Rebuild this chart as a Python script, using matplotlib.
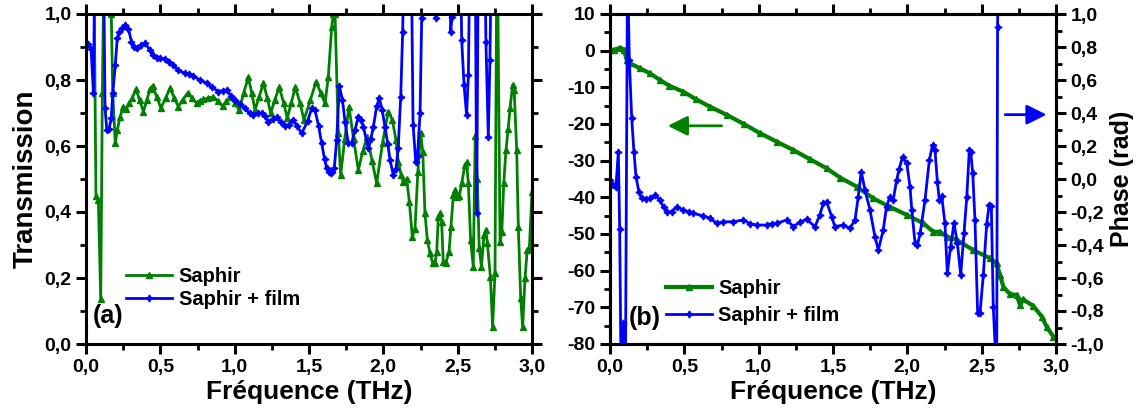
import matplotlib.pyplot as plt
from matplotlib.ticker import MultipleLocator, FuncFormatter

plt.rcParams['font.family'] = ['Liberation Sans', 'DejaVu Sans']
plt.rcParams['font.weight'] = 'bold'

# (a) transmission - Saphir
f_tr_sap = [0.05, 0.067, 0.083, 0.099, 0.11, 0.125, 0.15, 0.17, 0.18, 0.197, 0.21, 0.23, 0.25, 0.27,
            0.29, 0.31, 0.336, 0.36, 0.386, 0.41, 0.43, 0.448, 0.475, 0.504, 0.535, 0.565, 0.595,
            0.621, 0.65, 0.684, 0.715, 0.744, 0.765, 0.789, 0.82, 0.856, 0.89, 0.919, 0.945, 0.969,
            1.0, 1.031, 1.06, 1.092, 1.115, 1.137, 1.165, 1.193, 1.22, 1.242, 1.27, 1.30, 1.33,
            1.354, 1.38, 1.408, 1.44, 1.466, 1.51, 1.547, 1.58, 1.608, 1.63, 1.653, 1.664, 1.675,
            1.697, 1.713, 1.74, 1.769, 1.80, 1.832, 1.862, 1.892, 1.925, 1.955, 1.995, 2.033, 2.06,
            2.085, 2.10, 2.12, 2.134, 2.157, 2.175, 2.195, 2.213, 2.232, 2.251, 2.265, 2.28, 2.296,
            2.314, 2.332, 2.347, 2.359, 2.37, 2.382, 2.392, 2.403, 2.42, 2.442, 2.455, 2.471, 2.482,
            2.498, 2.512, 2.527, 2.549, 2.56, 2.572, 2.587, 2.605, 2.618, 2.632, 2.645, 2.66, 2.677,
            2.69, 2.70, 2.72, 2.735, 2.751, 2.765, 2.785, 2.797, 2.81, 2.825, 2.84, 2.852, 2.87,
            2.88, 2.897, 2.908, 2.924, 2.937, 2.953, 2.968, 2.982, 3.0]
tr_sap = [1.3, 0.45, 0.435, 0.135, 0.76, 1.3, 1.3, 1.0, 0.76, 0.608, 0.648, 0.689, 0.719, 0.712,
          0.73, 0.745, 0.772, 0.74, 0.704, 0.74, 0.772, 0.782, 0.75, 0.715, 0.745, 0.775, 0.745,
          0.719, 0.74, 0.76, 0.745, 0.729, 0.737, 0.741, 0.745, 0.749, 0.735, 0.721, 0.735, 0.749,
          0.73, 0.709, 0.76, 0.808, 0.76, 0.709, 0.75, 0.79, 0.745, 0.699, 0.74, 0.778, 0.73,
          0.684, 0.73, 0.778, 0.73, 0.679, 0.74, 0.795, 0.76, 0.729, 0.81, 0.962, 1.0, 1.0,
          0.638, 0.512, 0.62, 0.719, 0.62, 0.527, 0.585, 0.628, 0.555, 0.487, 0.61, 0.704, 0.68,
          0.618, 0.552, 0.512, 0.492, 0.50, 0.431, 0.325, 0.35, 0.52, 0.638, 0.583, 0.396, 0.315,
          0.275, 0.245, 0.245, 0.28, 0.386, 0.396, 0.371, 0.25, 0.245, 0.28, 0.356, 0.452, 0.467,
          0.446, 0.45, 0.487, 0.542, 0.55, 0.487, 0.315, 0.234, 0.63, 0.5, 0.29, 0.234, 0.33,
          0.345, 0.305, 0.204, 0.052, 0.214, 1.3, 0.31, 0.34, 0.487, 0.588, 0.653, 0.714, 0.785,
          0.77, 0.588, 0.356, 0.138, 0.052, 0.199, 0.285, 0.29, 0.46]

# (a) transmission - Saphir + film
f_tr_film = [0.0, 0.015, 0.034, 0.05, 0.062, 0.09, 0.115, 0.128, 0.14, 0.155, 0.17, 0.18, 0.197,
             0.21, 0.225, 0.24, 0.26, 0.285, 0.306, 0.325, 0.34, 0.37, 0.40, 0.43, 0.45, 0.475,
             0.50, 0.531, 0.56, 0.587, 0.62, 0.666, 0.695, 0.722, 0.765, 0.812, 0.85, 0.89, 0.92,
             0.946, 0.975, 1.002, 1.035, 1.069, 1.10, 1.125, 1.155, 1.182, 1.205, 1.226, 1.255,
             1.283, 1.31, 1.339, 1.365, 1.394, 1.42, 1.451, 1.49, 1.518, 1.54, 1.565, 1.585, 1.605,
             1.619, 1.633, 1.646, 1.658, 1.67, 1.686, 1.704, 1.725, 1.742, 1.764, 1.787, 1.81,
             1.832, 1.85, 1.866, 1.899, 1.915, 1.933, 1.955, 1.973, 1.992, 2.011, 2.03, 2.045,
             2.067, 2.085, 2.10, 2.117, 2.13, 2.145, 2.185, 2.20, 2.218, 2.23, 2.247, 2.258, 2.27,
             2.34, 2.354, 2.368, 2.44, 2.453, 2.462, 2.475, 2.515, 2.527, 2.543, 2.56, 2.572, 2.585,
             2.617, 2.628, 2.64, 2.68, 2.69, 2.706, 2.717, 2.73]
tr_film = [0.91, 0.91, 0.895, 0.76, 1.3, 1.3, 1.3, 0.714, 0.65, 0.652, 0.684, 0.76, 0.845,
           0.926, 0.945, 0.958, 0.967, 0.955, 0.916, 0.9, 0.896, 0.905, 0.911, 0.89, 0.876, 0.868,
           0.866, 0.865, 0.855, 0.845, 0.83, 0.82, 0.818, 0.812, 0.80, 0.79, 0.778, 0.765, 0.768,
           0.77, 0.752, 0.739, 0.728, 0.714, 0.70, 0.694, 0.70, 0.70, 0.69, 0.674, 0.682,
           0.689, 0.672, 0.661, 0.665, 0.679, 0.66, 0.638, 0.675, 0.714, 0.709, 0.66, 0.608, 0.56,
           0.532, 0.52, 0.517, 0.522, 0.532, 0.618, 0.782, 0.74, 0.674, 0.608, 0.608, 0.65,
           0.689, 0.68, 0.658, 0.593, 0.62, 0.658, 0.72, 0.745, 0.71, 0.658, 0.605, 0.558,
           0.512, 0.53, 0.593, 0.75, 0.946, 1.3, 1.3, 0.664, 0.552, 0.57, 0.70, 0.987, 1.3,
           1.3, 0.987, 1.3, 1.3, 0.946, 0.99, 1.3, 1.3, 0.921, 0.785, 0.694, 0.815, 1.3,
           1.3, 0.396, 1.3, 1.3, 0.916, 0.628, 0.86, 1.3]

# (b) phase - Saphir (left axis)
f_ph_sap = [0.0, 0.03, 0.067, 0.094, 0.112, 0.135, 0.2, 0.269, 0.336, 0.4, 0.493, 0.58, 0.673,
            0.785, 0.9, 1.009, 1.12, 1.233, 1.345, 1.458, 1.547, 1.66, 1.771, 1.883, 1.996, 2.108,
            2.175, 2.22, 2.265, 2.332, 2.444, 2.556, 2.60, 2.623, 2.646, 2.69, 2.736, 2.758, 2.776,
            2.847, 2.904, 2.937, 2.982]
ph_sap = [0.2, 0.2, 0.8, 0.3, -2.5, -3.45, -4.8, -6.2, -8.0, -9.6, -11.2, -13.3, -15.3,
          -17.5, -20.0, -22.5, -24.8, -27.1, -29.6, -32.1, -34.6, -37.1, -40.3, -42.6, -44.8, -47.1,
          -49.4, -49.4, -50.7, -51.6, -54.4, -56.6, -58.0, -61.2, -64.4, -66.4, -66.6, -69.4, -67.8,
          -69.6, -72.5, -75.3, -78.0]

# (b) phase - Saphir + film (right axis, rad)
f_ph_film = [0.0, 0.022, 0.04, 0.056, 0.065, 0.078, 0.09, 0.102, 0.118, 0.13, 0.146, 0.161, 0.175,
             0.195, 0.213, 0.24, 0.269, 0.303, 0.336, 0.36, 0.381, 0.415, 0.449, 0.493, 0.53,
             0.561, 0.628, 0.673, 0.718, 0.762, 0.83, 0.897, 0.94, 0.987, 1.054, 1.09, 1.121,
             1.189, 1.233, 1.28, 1.323, 1.379, 1.41, 1.435, 1.457, 1.491, 1.513, 1.569, 1.614,
             1.648, 1.67, 1.69, 1.715, 1.749, 1.782, 1.805, 1.838, 1.86, 1.883, 1.905, 1.928,
             1.945, 1.968, 1.996, 2.018, 2.03, 2.052, 2.068, 2.086, 2.119, 2.148, 2.17, 2.186,
             2.202, 2.215, 2.231, 2.253, 2.269, 2.291, 2.314, 2.337, 2.359, 2.381, 2.40, 2.417,
             2.426, 2.44, 2.455, 2.473, 2.489, 2.511, 2.534, 2.55, 2.565, 2.578, 2.59, 2.60,
             2.607, 2.615]
ph_film = [-0.005, -0.036, -0.05, 0.166, -0.3, -1.5, -0.87, -1.5, 1.3, 0.72, 0.368, 0.166, 0.014,
           -0.08, -0.117, -0.12, -0.117, -0.097, -0.127, -0.17, -0.198, -0.198, -0.168, -0.188, -0.2,
           -0.208, -0.224, -0.238, -0.269, -0.259, -0.259, -0.248, -0.27, -0.279, -0.279, -0.27, -0.269,
           -0.248, -0.289, -0.26, -0.245, -0.289, -0.22, -0.147, -0.138, -0.228, -0.289, -0.279, -0.299,
           -0.248, -0.107, 0.045, -0.067, -0.188, -0.35, -0.43, -0.309, -0.168, -0.107, -0.127, -0.006,
           0.06, 0.135, 0.095, -0.047, -0.188, -0.39, -0.4, -0.329, -0.127, 0.115, 0.206, 0.176,
           -0.016, -0.127, -0.1, -0.269, -0.572, -0.41, -0.269, -0.39, -0.582, -0.329, -0.107, 0.176,
           0.165, 0.034, -0.25, -0.814, -0.81, -0.582, -0.27, -0.158, -0.165, -0.774, -1.0, -1.5,
           0.92, 1.5]

vert = '#008000'
bleu = '#0000ff'
virg = FuncFormatter(lambda v, p: f"{v:.1f}".replace('.', ','))
entier = FuncFormatter(lambda v, p: f"{v:.0f}")

fig = plt.figure(figsize=(11.47, 4.12), dpi=100)
ax1 = fig.add_axes([86/1147, 68/412, 446/1147, 330/412])
ax2 = fig.add_axes([610/1147, 68/412, 446/1147, 330/412])
ax3 = ax2.twinx()


def style(ax, **kw):
    for s in ax.spines.values():
        s.set_linewidth(2.2)
    ax.tick_params(which='major', direction='out', length=7, width=2.2, labelsize=14, **kw)
    ax.tick_params(which='minor', direction='out', length=4, width=2, **kw)


# panel (a)
ax1.plot(f_tr_sap, tr_sap, color=vert, lw=2, marker='^', ms=4, label='Saphir')
ax1.plot(f_tr_film, tr_film, color=bleu, lw=2, marker=(4, 1, 0), ms=5, label='Saphir + film')
ax1.set_xlim(0, 3)
ax1.set_ylim(0, 1)
ax1.xaxis.set_major_locator(MultipleLocator(0.5))
ax1.xaxis.set_minor_locator(MultipleLocator(0.25))
ax1.yaxis.set_major_locator(MultipleLocator(0.2))
ax1.yaxis.set_minor_locator(MultipleLocator(0.1))
ax1.xaxis.set_major_formatter(virg)
ax1.yaxis.set_major_formatter(virg)
style(ax1, top=True, right=True)
ax1.set_xlabel('Fréquence (THz)', fontsize=19, fontweight='bold', labelpad=3)
ax1.set_ylabel('Transmission', fontsize=20, fontweight='bold', labelpad=4)
ax1.legend(loc='center left', bbox_to_anchor=(0.09, 0.169), frameon=False, fontsize=14.5,
           handlelength=2.3, handletextpad=0.3, labelspacing=0.2, borderpad=0, borderaxespad=0,
           numpoints=1)
ax1.text(0.015, 0.085, '(a)', transform=ax1.transAxes, fontsize=18, fontweight='bold',
         ha='left', va='center')

# panel (b)
l1, = ax2.plot(f_ph_sap, ph_sap, color=vert, lw=3, marker='^', ms=4, label='Saphir')
l2, = ax3.plot(f_ph_film, ph_film, color=bleu, lw=2, marker=(4, 1, 0), ms=5, label='Saphir + film')
ax2.set_xlim(0, 3)
ax2.set_ylim(-80, 10)
ax3.set_ylim(-1, 1)
ax2.xaxis.set_major_locator(MultipleLocator(0.5))
ax2.xaxis.set_minor_locator(MultipleLocator(0.25))
ax2.yaxis.set_major_locator(MultipleLocator(10))
ax2.yaxis.set_minor_locator(MultipleLocator(5))
ax3.yaxis.set_major_locator(MultipleLocator(0.2))
ax3.yaxis.set_minor_locator(MultipleLocator(0.1))
ax2.xaxis.set_major_formatter(virg)
ax2.yaxis.set_major_formatter(entier)
ax3.yaxis.set_major_formatter(virg)
style(ax2, top=True, right=False)
style(ax3, left=False, right=True)
ax2.set_xlabel('Fréquence (THz)', fontsize=19, fontweight='bold', labelpad=3)
ax3.set_ylabel('Phase (rad)', fontsize=18, fontweight='bold')
ax2.legend(handles=[l1, l2], loc='center left', bbox_to_anchor=(0.125, 0.127), frameon=False,
           fontsize=14.5, handlelength=2.3, handletextpad=0.3, labelspacing=0.4, borderpad=0,
           borderaxespad=0, numpoints=1)
ax2.text(0.042, 0.08, '(b)', transform=ax2.transAxes, fontsize=18, fontweight='bold',
         ha='left', va='center')

ax2.annotate('', xy=(0.37, -20.5), xytext=(0.77, -20.5),
             arrowprops=dict(arrowstyle='-|>', color=vert, lw=2, mutation_scale=30))
ax3.annotate('', xy=(2.955, 0.39), xytext=(2.64, 0.39),
             arrowprops=dict(arrowstyle='-|>', color=bleu, lw=2, mutation_scale=30))

fig.savefig('out.png', dpi=100)
